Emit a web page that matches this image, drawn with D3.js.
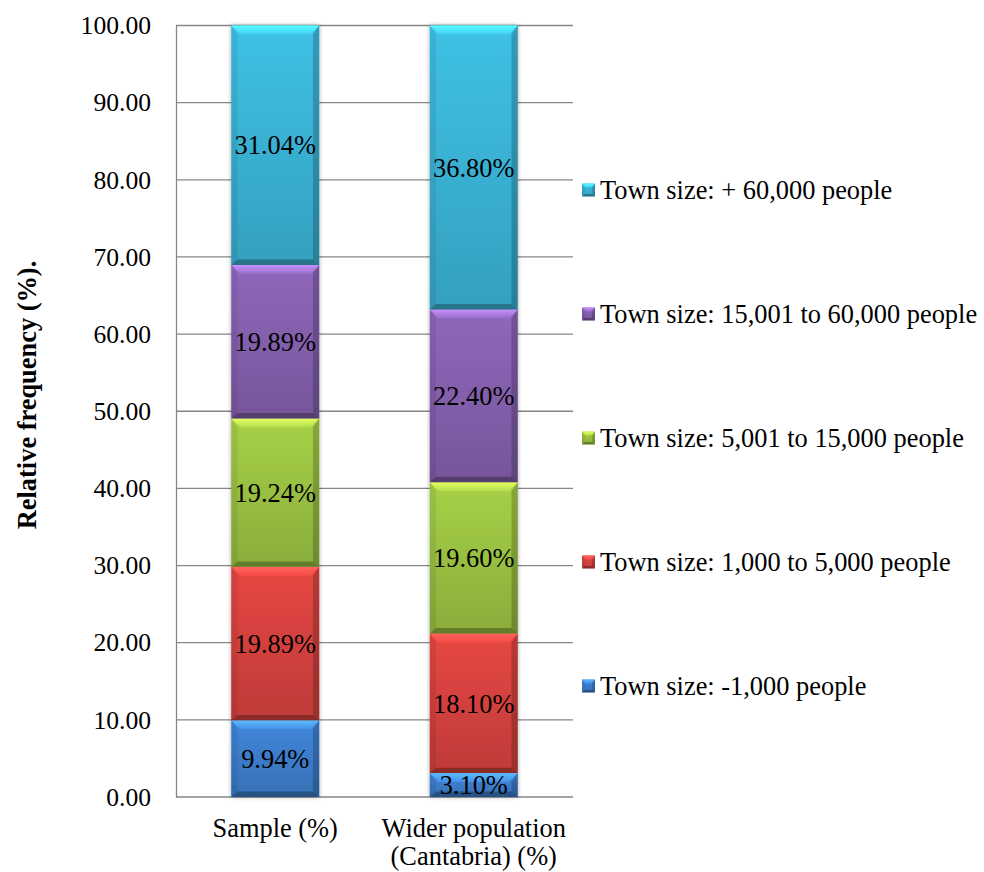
<!DOCTYPE html>
<html>
<head>
<meta charset="utf-8">
<script src="https://cdn.jsdelivr.net/npm/d3@7/dist/d3.min.js"></script>
<style>
  html, body { margin: 0; padding: 0; background: #ffffff; }
  svg { display: block; }
</style>
</head>
<body>
<svg id="chart" width="984" height="872"></svg>
<script>
// Stacked shares of respondents by town size
const categories = ["Sample (%)", "Wider population (Cantabria) (%)"];
const categoryLines = [["Sample (%)"], ["Wider population", "(Cantabria) (%)"]];
const seriesNames = [
  "Town size: -1,000 people",
  "Town size: 1,000 to 5,000 people",
  "Town size: 5,001 to 15,000 people",
  "Town size: 15,001 to 60,000 people",
  "Town size: + 60,000 people"
];
const sampleValues = [9.94, 19.89, 19.24, 19.89, 31.04];
const widerValues = [3.10, 18.10, 19.60, 22.40, 36.80];
const seriesColors = ["#3d7fcd", "#d8433f", "#9cc443", "#8661b0", "#3bb5d8"];
const yTicks = [0, 10, 20, 30, 40, 50, 60, 70, 80, 90, 100];
const yTitle = "Relative frequency (%).";

const FONT = "'Liberation Serif', 'Times New Roman', serif";
const FS_TICK = 25.6;
const FS = 26.4;

const svg = d3.select("#chart");
const plot = { left: 176, right: 573, top: 25.5, bottom: 797 };

const y = d3.scaleLinear().domain([0, 100]).range([plot.bottom, plot.top]);
const x = d3.scaleBand().domain(categories).range([plot.left, plot.right])
  .paddingInner(0.5567).paddingOuter(0.2783);

const defs = svg.append("defs");
const shadow = defs.append("filter").attr("id", "barShadow")
  .attr("x", "-20%").attr("y", "-5%").attr("width", "140%").attr("height", "110%");
shadow.append("feDropShadow").attr("dx", 0).attr("dy", 0).attr("stdDeviation", 2.2)
  .attr("flood-color", "#000").attr("flood-opacity", 0.35);

// vertical body gradient and top bevel gradient for each series colour
seriesColors.forEach((c, i) => {
  const base = d3.color(c);
  const g = defs.append("linearGradient").attr("id", "body" + i)
    .attr("x1", 0).attr("y1", 0).attr("x2", 0).attr("y2", 1);
  g.append("stop").attr("offset", "0%").attr("stop-color", base.brighter(0.18));
  g.append("stop").attr("offset", "100%").attr("stop-color", base.darker(0.35));
  const t = defs.append("linearGradient").attr("id", "bevel" + i)
    .attr("x1", 0).attr("y1", 0).attr("x2", 0).attr("y2", 1);
  t.append("stop").attr("offset", "0%").attr("stop-color", base.brighter(1.1));
  t.append("stop").attr("offset", "100%").attr("stop-color", base.brighter(0.35));
});

// gridlines
svg.append("g").selectAll("line").data(yTicks).join("line")
  .attr("x1", plot.left).attr("x2", plot.right)
  .attr("y1", d => y(d)).attr("y2", d => y(d))
  .attr("stroke", "#868686").attr("stroke-width", 1.3);

// left axis
const yAxis = d3.axisLeft(y).tickValues(yTicks).tickSize(0).tickPadding(25)
  .tickFormat(d => d3.format(".2f")(d));
const ag = svg.append("g").attr("transform", `translate(${plot.left},0)`).call(yAxis);
ag.select(".domain").attr("stroke", "#868686").attr("stroke-width", 1.3);
ag.selectAll("text").attr("fill", "#000")
  .style("font-family", FONT).style("font-size", FS_TICK + "px");

// stacked data
const rows = categories.map((cat, ci) => {
  const vals = ci === 0 ? sampleValues : widerValues;
  let acc = 0;
  return vals.map((v, si) => {
    const seg = { cat, si, v, y0: acc, y1: acc + v };
    acc += v;
    return seg;
  });
}).flat();

function drawBevelBlock(g, x0, x1, yTop, yBot, si, maxB) {
  const h = yBot - yTop;
  const b = Math.min(maxB, h / 2, (x1 - x0) / 2);
  g.append("rect").attr("x", x0).attr("y", yTop).attr("width", x1 - x0).attr("height", h)
    .attr("fill", `url(#body${si})`);
  // top bevel
  g.append("polygon")
    .attr("points", [[x0, yTop], [x1, yTop], [x1 - b, yTop + b], [x0 + b, yTop + b]].join(" "))
    .attr("fill", `url(#bevel${si})`);
  // left bevel
  g.append("polygon")
    .attr("points", [[x0, yTop], [x0 + b * 0.7, yTop + b], [x0 + b * 0.7, yBot - b * 0.6], [x0, yBot]].join(" "))
    .attr("fill", "#000").attr("fill-opacity", 0.07);
  // right bevel
  g.append("polygon")
    .attr("points", [[x1, yTop], [x1 - b * 0.7, yTop + b], [x1 - b * 0.7, yBot - b * 0.6], [x1, yBot]].join(" "))
    .attr("fill", "#000").attr("fill-opacity", 0.2);
  // bottom bevel
  g.append("polygon")
    .attr("points", [[x0, yBot], [x1, yBot], [x1 - b * 0.7, yBot - b * 0.6], [x0 + b * 0.7, yBot - b * 0.6]].join(" "))
    .attr("fill", "#000").attr("fill-opacity", 0.28);
}

const barsG = svg.append("g").attr("filter", "url(#barShadow)");
rows.forEach(d => {
  const g = barsG.append("g");
  drawBevelBlock(g, x(d.cat), x(d.cat) + x.bandwidth(), y(d.y1), y(d.y0), d.si, 9);
});

// value labels
svg.append("g").selectAll("text").data(rows).join("text")
  .attr("x", d => x(d.cat) + x.bandwidth() / 2)
  .attr("y", d => (y(d.y0) + y(d.y1)) / 2)
  .attr("dy", "0.35em")
  .attr("text-anchor", "middle")
  .attr("fill", "#000")
  .style("font-family", FONT).style("font-size", FS + "px")
  .text(d => d3.format(".2f")(d.v) + "%");

// category labels
categories.forEach((cat, ci) => {
  const t = svg.append("text").attr("text-anchor", "middle").attr("fill", "#000")
    .style("font-family", FONT).style("font-size", FS + "px");
  categoryLines[ci].forEach((line, li) => {
    t.append("tspan").attr("x", x(cat) + x.bandwidth() / 2).attr("y", 837 + li * 28).text(line);
  });
});

// axis title
svg.append("text")
  .attr("transform", "translate(27,395) rotate(-90)")
  .attr("dy", "0.35em")
  .attr("text-anchor", "middle")
  .attr("font-weight", "bold").attr("fill", "#000")
  .style("font-family", FONT).style("font-size", FS + "px")
  .text(yTitle);

// legend, largest town size first
const legendY = d3.scalePoint().domain(d3.range(seriesNames.length).reverse()).range([190, 686]);
const lg = svg.append("g");
seriesNames.forEach((name, si) => {
  const cy = legendY(si);
  const g = lg.append("g");
  drawBevelBlock(g, 582, 595, cy - 6.5, cy + 6.5, si, 4);
  g.append("text").attr("x", 600).attr("y", cy).attr("dy", "0.35em")
    .attr("fill", "#000")
    .style("font-family", FONT).style("font-size", FS + "px")
    .text(name);
});
</script>
</body>
</html>
